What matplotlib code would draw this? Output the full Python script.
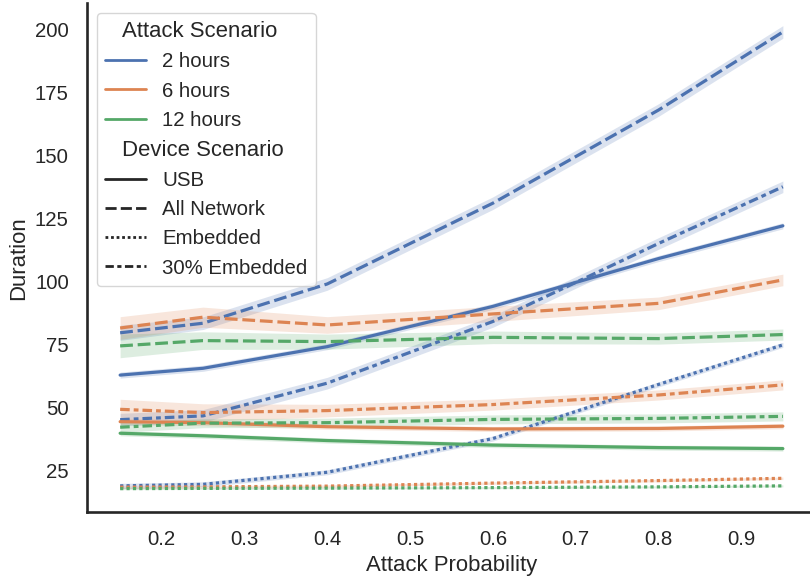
import matplotlib
matplotlib.use("Agg")
import matplotlib.pyplot as plt
import seaborn as sns
from matplotlib.lines import Line2D
from matplotlib.offsetbox import HPacker

sns.set_theme(context="notebook", style="white", palette="deep", font_scale=1.33,
              rc={"lines.linewidth": 2.3, "axes.linewidth": 1.9})
plt.rcParams['font.family'] = ['Liberation Sans', 'DejaVu Sans']

# attack probabilities on the x axis
attack_prob = [0.15, 0.25, 0.4, 0.6, 0.8, 0.95]

hours = ["2 hours", "6 hours", "12 hours"]
devices = ["USB", "All Network", "Embedded", "30% Embedded"]

# mean duration per (attack scenario, device scenario)
dur_2h_usb = [62.7, 65.4, 74.0, 90.0, 109.0, 122.0]
dur_2h_net = [79.5, 83.3, 98.9, 131.0, 168.0, 199.0]
dur_2h_emb = [18.7, 19.3, 24.1, 37.5, 59.0, 74.7]
dur_2h_30 = [45.0, 46.5, 59.5, 84.0, 115.0, 137.5]

dur_6h_usb = [44.2, 43.8, 42.2, 41.3, 41.5, 42.4]
dur_6h_net = [81.4, 85.7, 82.6, 87.0, 91.2, 100.5]
dur_6h_emb = [18.2, 18.3, 18.6, 19.8, 20.8, 21.7]
dur_6h_30 = [49.1, 47.8, 48.6, 51.0, 54.8, 58.8]

dur_12h_usb = [39.6, 38.6, 36.7, 34.9, 33.9, 33.5]
dur_12h_net = [74.3, 76.4, 76.0, 77.7, 77.2, 78.8]
dur_12h_emb = [17.6, 17.7, 17.8, 18.0, 18.3, 18.7]
dur_12h_30 = [42.0, 43.6, 43.8, 45.1, 45.5, 46.3]

# half width of the confidence bands
ci_2h_usb = [1.2, 1.2, 1.2, 1.2, 1.2, 1.2]
ci_2h_net = [3.0, 2.5, 2.5, 2.5, 2.5, 2.5]
ci_2h_emb = [1.0, 1.0, 1.0, 1.0, 1.0, 1.0]
ci_2h_30 = [2.5, 2.5, 2.3, 2.3, 2.3, 2.3]

ci_6h_usb = [1.2, 1.2, 1.0, 1.0, 1.0, 1.0]
ci_6h_net = [4.5, 4.0, 3.3, 3.0, 2.5, 2.3]
ci_6h_emb = [0.5, 0.5, 0.5, 0.5, 0.5, 0.5]
ci_6h_30 = [4.0, 3.5, 2.5, 2.2, 2.0, 2.0]

ci_12h_usb = [1.0, 1.0, 1.0, 1.0, 1.0, 1.0]
ci_12h_net = [4.7, 3.5, 3.0, 2.5, 2.2, 2.2]
ci_12h_emb = [0.4, 0.4, 0.4, 0.4, 0.4, 0.4]
ci_12h_30 = [2.0, 1.8, 1.8, 1.8, 1.8, 1.8]

means = [[dur_2h_usb, dur_2h_net, dur_2h_emb, dur_2h_30],
         [dur_6h_usb, dur_6h_net, dur_6h_emb, dur_6h_30],
         [dur_12h_usb, dur_12h_net, dur_12h_emb, dur_12h_30]]
cis = [[ci_2h_usb, ci_2h_net, ci_2h_emb, ci_2h_30],
       [ci_6h_usb, ci_6h_net, ci_6h_emb, ci_6h_30],
       [ci_12h_usb, ci_12h_net, ci_12h_emb, ci_12h_30]]

colors = sns.color_palette("deep", 3)
dash_styles = ["", (4, 1.5), (1, 1), (3, 1.25, 1.5, 1.25)]

fig = plt.figure(figsize=(8.1, 5.8), dpi=100)
ax = fig.add_axes([87 / 810, (580 - 512.3) / 580, 729 / 810, (512.3 - 3) / 580])

for i, hour in enumerate(hours):
    for j, dev in enumerate(devices):
        y = means[i][j]
        e = cis[i][j]
        lo = [m - d for m, d in zip(y, e)]
        hi = [m + d for m, d in zip(y, e)]
        ax.fill_between(attack_prob, lo, hi, color=colors[i], alpha=0.2, linewidth=0)
        line, = ax.plot(attack_prob, y, color=colors[i])
        if dash_styles[j]:
            line.set_dashes(dash_styles[j])

ax.set_xlim(0.11, 0.99)
ax.set_ylim(8.2, 210.5)
ax.set_xticks([0.2, 0.3, 0.4, 0.5, 0.6, 0.7, 0.8, 0.9])
ax.set_yticks([25, 50, 75, 100, 125, 150, 175, 200])
ax.tick_params(axis="both", pad=plt.rcParams["xtick.major.pad"] + 3.6)
ax.set_xlabel("Attack Probability")
ax.set_ylabel("Duration")
sns.despine(ax=ax)

# legend with seaborn-like subtitles
handles = [Line2D([], [], visible=False, label="Attack Scenario")]
for i, hour in enumerate(hours):
    handles.append(Line2D([], [], color=colors[i], linewidth=2.0, label=hour))
handles.append(Line2D([], [], visible=False, label="Device Scenario"))
for j, dev in enumerate(devices):
    h = Line2D([], [], color=".15", linewidth=2.0, label=dev)
    if dash_styles[j]:
        h.set_dashes(dash_styles[j])
    handles.append(h)

leg = ax.legend(handles=handles, loc="upper left")
title_size = plt.rcParams["legend.title_fontsize"]
for hpack in leg.findobj(HPacker, include_self=False):
    kids = hpack.get_children()
    if len(kids) != 2:
        continue
    draw_area, text_area = kids
    arts = draw_area.get_children()
    if not all(a.get_visible() for a in arts):
        draw_area.set_width(0)
        for t in text_area.get_children():
            t.set_size(title_size)

fig.savefig("out.png", dpi=100)
